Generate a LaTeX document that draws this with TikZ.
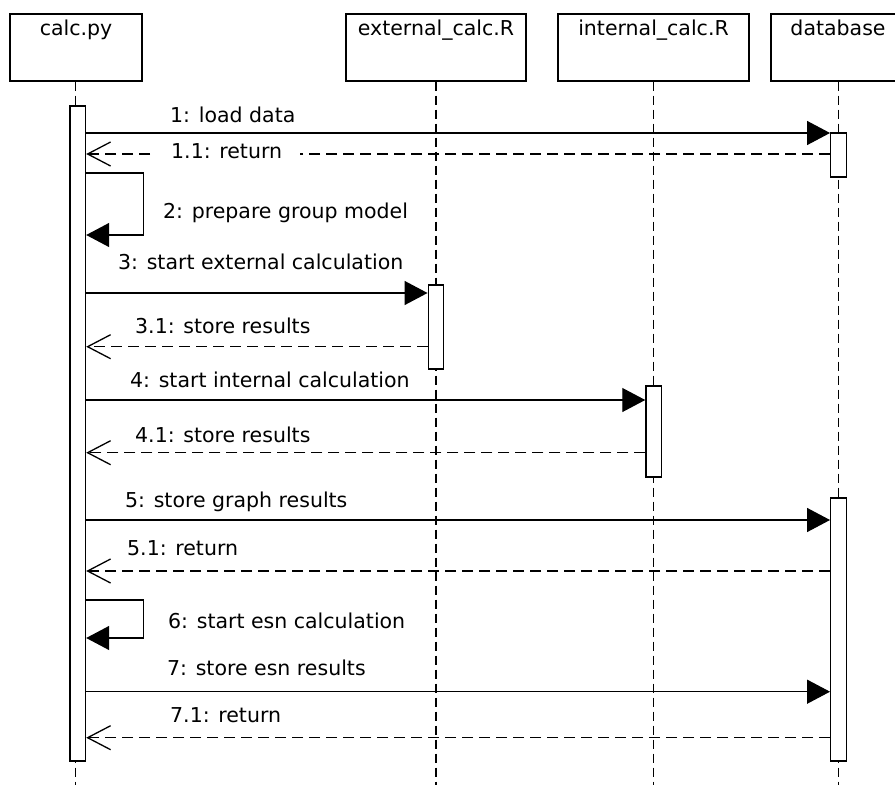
\documentclass[tikz,border=0pt]{standalone}
\usepackage{fontspec}
\setmainfont{DejaVu Sans}
\usetikzlibrary{arrows.meta}
\begin{document}
\begin{tikzpicture}[x=1pt,y=-1pt,
  lbl/.style={font=\fontsize{20.5}{24}\selectfont, inner sep=0pt, anchor=base west},
  ptitle/.style={font=\fontsize{20.5}{24}\selectfont, inner sep=0pt, anchor=base},
  participant/.style={draw, line width=1.4pt, fill=white, minimum height=67pt, inner sep=0pt},
  lifeline/.style={line width=1.3pt, dash pattern=on 9pt off 5pt},
  actbar/.style={draw, fill=white, line width=1.4pt, minimum width=15.5pt, inner sep=0pt},
  call/.style={line width=1.3pt, -{Triangle[length=23pt,width=24pt]}},
  reply/.style={line width=1.3pt, dash pattern=on 11pt off 6pt, -{Straight Barb[length=23pt,width=24pt]}}
]
\clip (0,0) rectangle (895,785);
\fill[white] (0,0) rectangle (895,785);

% participants
\node[participant, minimum width=132pt] (calc) at (76,47.5) {};
\node[participant, minimum width=180pt] (ext)  at (436,47.5) {};
\node[participant, minimum width=191pt] (int)  at (653.5,47.5) {};
\node[participant, minimum width=134pt] (db)   at (838,47.5) {};
\coordinate (tb) at (0,35);
\node[ptitle] at (calc |- tb) {calc.py};
\node[ptitle] at (ext |- tb) {external\_calc.R};
\node[ptitle] at (int |- tb) {internal\_calc.R};
\node[ptitle] at (db |- tb) {database};

% lifelines
\coordinate (bottom) at (0,795);
\draw[lifeline] ([xshift=-0.7pt]calc.south) -- ([xshift=-0.7pt]calc.south |- bottom);
\draw[lifeline] (ext.south) -- (ext.south |- bottom);
\draw[lifeline] ([xshift=0.2pt]int.south) -- ([xshift=0.2pt]int.south |- bottom);
\draw[lifeline] ([xshift=0.3pt]db.south) -- ([xshift=0.3pt]db.south |- bottom);

% message rows
\coordinate (m1)  at (0,133);
\coordinate (m11) at (0,154);
\coordinate (m2a) at (0,173);
\coordinate (m2b) at (0,235);
\coordinate (m3)  at (0,293);
\coordinate (m31) at (0,346.7);
\coordinate (m4)  at (0,400);
\coordinate (m41) at (0,452.7);
\coordinate (m5)  at (0,520);
\coordinate (m51) at (0,571);
\coordinate (m6a) at (0,600);
\coordinate (m6b) at (0,638);
\coordinate (m7)  at (0,691.7);
\coordinate (m71) at (0,737.7);

% activation bars
\node[actbar, minimum height=655pt] (cbar) at (77.75,433.5) {};
\node[actbar, minimum height=44pt]  (dbar1) at (838.5,155) {};
\node[actbar, minimum height=84pt]  (ebar) at (436,327) {};
\node[actbar, minimum height=91pt]  (ibar) at (653.7,431.5) {};
\node[actbar, minimum height=263pt] (dbar2) at (838.5,629.5) {};

% messages
\draw[call]  (cbar.east |- m1) -- (dbar1.west |- m1);
\draw[reply] (dbar1.west |- m11) -- (cbar.east |- m11);
\draw[call]  (cbar.east |- m2a) -- ++(57,0) |- (cbar.east |- m2b);
\draw[call]  (cbar.east |- m3) -- (ebar.west |- m3);
\draw[reply] (ebar.west |- m31) -- (cbar.east |- m31);
\draw[call]  (cbar.east |- m4) -- (ibar.west |- m4);
\draw[reply] (ibar.west |- m41) -- (cbar.east |- m41);
\draw[call]  (cbar.east |- m5) -- (dbar2.west |- m5);
\draw[reply] (dbar2.west |- m51) -- (cbar.east |- m51);
\draw[call]  (cbar.east |- m6a) -- ++(57,0) |- (cbar.east |- m6b);
\draw[call]  (cbar.east |- m7) -- (dbar2.west |- m7);
\draw[reply] (dbar2.west |- m71) -- (cbar.east |- m71);

% message labels
\node[lbl] (l1)  at (170,122.7) {1: load data};
\node[lbl, fill=white, inner xsep=18pt, inner ysep=3pt] (l11) at (153,158) {1.1: return};
\node[lbl] (l2)  at (163,218.5) {2: prepare group model};
\node[lbl] (l3)  at (118,269) {3: start external calculation};
\node[lbl] (l31) at (135,333) {3.1: store results};
\node[lbl] (l4)  at (130,387) {4: start internal calculation};
\node[lbl] (l41) at (135,442.7) {4.1: store results};
\node[lbl] (l5)  at (125,507) {5: store graph results};
\node[lbl] (l51) at (127,555) {5.1: return};
\node[lbl] (l6)  at (168,628) {6: start esn calculation};
\node[lbl] (l7)  at (167,675) {7: store esn results};
\node[lbl] (l71) at (170,722.7) {7.1: return};
\end{tikzpicture}
\end{document}
